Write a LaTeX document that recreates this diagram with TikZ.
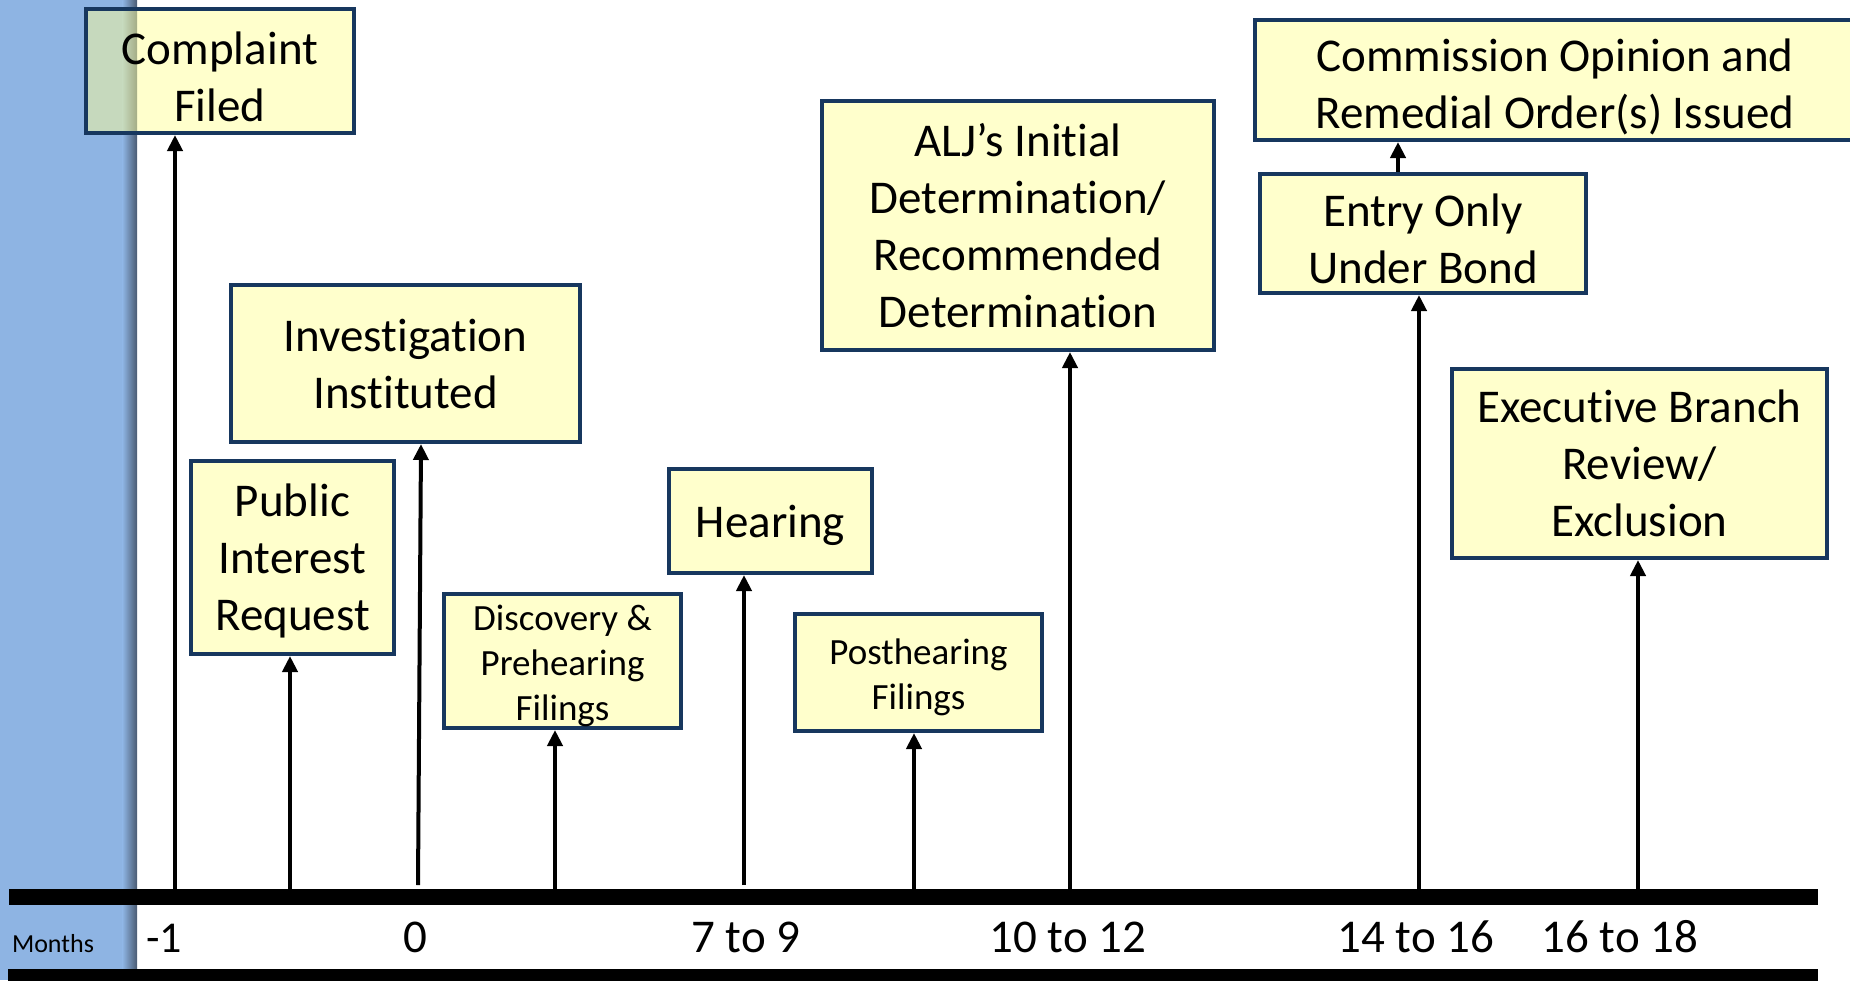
\documentclass[tikz,border=0pt]{standalone}
\usepackage{fontspec}
\setmainfont{Carlito}[Ligatures={NoCommon,NoContextual,NoRequired}]
\usetikzlibrary{arrows.meta}
\definecolor{bandblue}{HTML}{8EB4E3}
\definecolor{shadowc}{HTML}{4A5B72}
\definecolor{boxline}{HTML}{17375E}
\definecolor{boxfill}{HTML}{FFFF99}
\newcommand{\tpbig}{\rule{0pt}{44pt}}
\newcommand{\tpsmall}{\rule{0pt}{35pt}}
\tikzset{
  evbox/.style={rectangle, draw=boxline, line width=4pt, fill=boxfill, fill opacity=0.5, text opacity=1, align=center, inner sep=0pt, font=\fontsize{47}{57}\selectfont},
  smallbox/.style={evbox, font=\fontsize{37}{45}\selectfont},
  uparrow/.style={-{Triangle[width=15pt,length=16pt]}, line width=4pt, black},
  axislabel/.style={anchor=base, inner sep=0pt, font=\fontsize{47}{57}\selectfont},
  bar/.style={rectangle, fill=black, inner sep=0pt, anchor=north west},
}
\begin{document}
\begin{tikzpicture}[x=1pt, y=-1pt]
\useasboundingbox (0,0) rectangle (1850,980);
% left band
\fill[bandblue] (0,0) rectangle (123,980);
\shade[left color=bandblue, right color=shadowc] (122.5,0) rectangle (137,980);

% boxes
\node[evbox, minimum width=268pt, minimum height=124pt] (complaint) at (220,71) {\tpbig Complaint\\Filed};
\node[evbox, minimum width=203pt, minimum height=193pt] (public) at (292.5,557.5) {\rule{0pt}{40pt}Public\\Interest\\Request};
\node[evbox, minimum width=349pt, minimum height=157pt] (invest) at (405.5,363.5) {Investigation\\Instituted};
\node[smallbox, minimum width=237pt, minimum height=134pt] (discovery) at (562.5,661) {\tpsmall Discovery \&\\Prehearing\\Filings};
\node[evbox, minimum width=203pt, minimum height=104pt] (hearing) at (770.5,521) {\rule{0pt}{42pt}Hearing};
\node[smallbox, minimum width=247pt, minimum height=117pt] (posthearing) at (918.5,672.5) {\tpsmall Posthearing\\Filings};
\node[evbox, minimum width=392pt, minimum height=249pt] (alj) at (1018,225.5) {ALJ’s Initial\\Determination/\\Recommended\\Determination};
\node[evbox, minimum width=326pt, minimum height=119pt] (entry) at (1423,233.5) {\tpbig Entry Only\\Under Bond};
\node[evbox, minimum width=600pt, minimum height=120pt] (commission) at (1555,80) {\rule{0pt}{46pt}Commission Opinion and\\Remedial Order(s) Issued};
\node[evbox, minimum width=375pt, minimum height=189pt] (exec) at (1639.5,463.5) {Executive Branch\\Review/\\Exclusion};

% arrow feet
\coordinate (f1) at (175,889);
\coordinate (f2) at (290,889);
\coordinate (f3) at (418,885);
\coordinate (t3) at (421,444);
\coordinate (f4) at (555,889);
\coordinate (f5) at (744,885);
\coordinate (f6) at (914,889);
\coordinate (f7) at (1070,889);
\coordinate (f8) at (1419,889);
\coordinate (f9) at (1638,889);
\coordinate (f10) at (1398,172);

\draw[uparrow] (f1) -- (complaint.south -| f1);
\draw[uparrow] (f2) -- (public.south -| f2);
\draw[uparrow] (f3) -- (invest.south -| t3);
\draw[uparrow] (f4) -- (discovery.south -| f4);
\draw[uparrow] (f5) -- (hearing.south -| f5);
\draw[uparrow] (f6) -- (posthearing.south -| f6);
\draw[uparrow] (f7) -- (alj.south -| f7);
\draw[uparrow] (f8) -- (entry.south -| f8);
\draw[uparrow] (f9) -- (exec.south -| f9);
\draw[uparrow] (entry.north -| f10) -- (commission.south -| f10);

% axis bars
\node[bar, minimum width=1809pt, minimum height=16pt] (axis) at (9,889) {};
\node[bar, minimum width=1810pt, minimum height=12pt] (bottombar) at (8,969) {};

% labels
\node[anchor=base, inner sep=0pt, font=\fontsize{26}{30}\selectfont] (months) at (53,952) {Months};
\node[axislabel, font=\fontsize{44}{52}\selectfont] (lm1) at (164,952) {-1};
\node[axislabel] (l0) at (415,952) {0};
\node[axislabel] (l7) at (746,952) {7 to 9};
\node[axislabel] (l10) at (1068,952) {10 to 12};
\node[axislabel] (l14) at (1416,952) {14 to 16};
\node[axislabel] (l16) at (1620,952) {16 to 18};
\end{tikzpicture}
\end{document}
